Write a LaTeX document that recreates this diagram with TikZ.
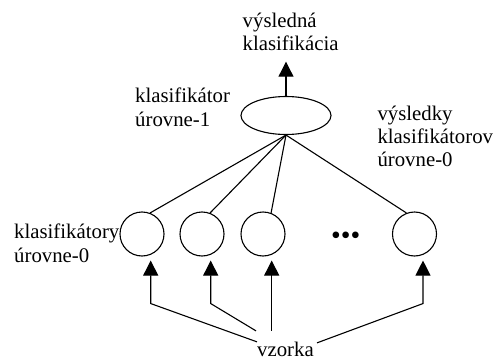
\documentclass[tikz,border=0pt]{standalone}
\usepackage{fontspec}
\setmainfont{Liberation Serif}
\usetikzlibrary{shapes.geometric,arrows.meta,calc}
\begin{document}
\begin{tikzpicture}[x=1pt,y=-1pt,
  lbl/.style={inner sep=0,anchor=base west,font=\fontsize{20.8}{23.4}\selectfont},
  conn/.style={line width=1.1pt},
  arr/.style={line width=1.1pt,-{Triangle[width=15pt,length=15pt]}},
  unit/.style={circle,draw,line width=1.1pt,minimum size=44pt,inner sep=0},
  meta/.style={ellipse,draw,line width=1.1pt,minimum width=90pt,minimum height=38pt,inner sep=0},
  dotsym/.style={inner sep=0,font=\fontsize{27.7}{30}\selectfont}]
\useasboundingbox (0,0) rectangle (495,361);
% classifiers
\node[meta] (e) at (286,115.5) {};
\node[unit] (c1) at (142,234) {};
\node[unit] (c2) at (202,234) {};
\node[unit] (c3) at (263,234) {};
\node[unit] (c4) at (414.5,234) {};
\node[dotsym] (d) at (345.7,238.3) {•••};
% labels
\node[lbl] (tout) at (242.5,27.5) {\begin{tabular}[t]{@{}l@{}}výsledná\\klasifikácia\end{tabular}};
\node[lbl] (tl1) at (135,102.7) {\begin{tabular}[t]{@{}l@{}}klasifikátor\\úrovne-1\end{tabular}};
\node[lbl] (tres) at (377.3,120) {\begin{tabular}[t]{@{}l@{}}výsledky\\klasifikátorov\\úrovne-0\end{tabular}};
\node[lbl] (tl0) at (14,238.7) {\begin{tabular}[t]{@{}l@{}}klasifikátory\\úrovne-0\end{tabular}};
\node[lbl] (v) at (257,356.5) {vzorka};
% output arrow
\coordinate (out) at (286,61.7);
\draw[arr] (e.north) -- (out);
% level-0 to level-1
\draw[conn] (e.south) -- (c1.69);
\draw[conn] (e.south) -- (c2.69);
\draw[conn] (e.south) -- (c3.69);
\draw[conn] (e.south) -- (c4.111);
% sample arrows
\coordinate (t1) at ($(c1.south)+(8.7,4)$);
\coordinate (t2) at ($(c2.south)+(8.7,4)$);
\coordinate (t3) at ($(c3.south)+(8.7,4)$);
\coordinate (t4) at ($(c4.south)+(8.5,4)$);
\coordinate (b1) at ($(t1)+(0,43)$);
\coordinate (b2) at ($(t2)+(0,43)$);
\coordinate (b4) at ($(t4)+(0,43)$);
\coordinate (s2) at ($(v.north west)+(-1,-11)$);
\coordinate (s3) at ($(v.north west |- s2)+(14.7,0)$);
\coordinate (s4) at ($(v.north east)+(3,1)$);
\draw[arr] (v.north west) -- (b1) -- (t1);
\draw[arr] (s2) -- (b2) -- (t2);
\draw[arr] (s3) -- (t3);
\draw[arr] (s4) -- (b4) -- (t4);
\end{tikzpicture}
\end{document}
